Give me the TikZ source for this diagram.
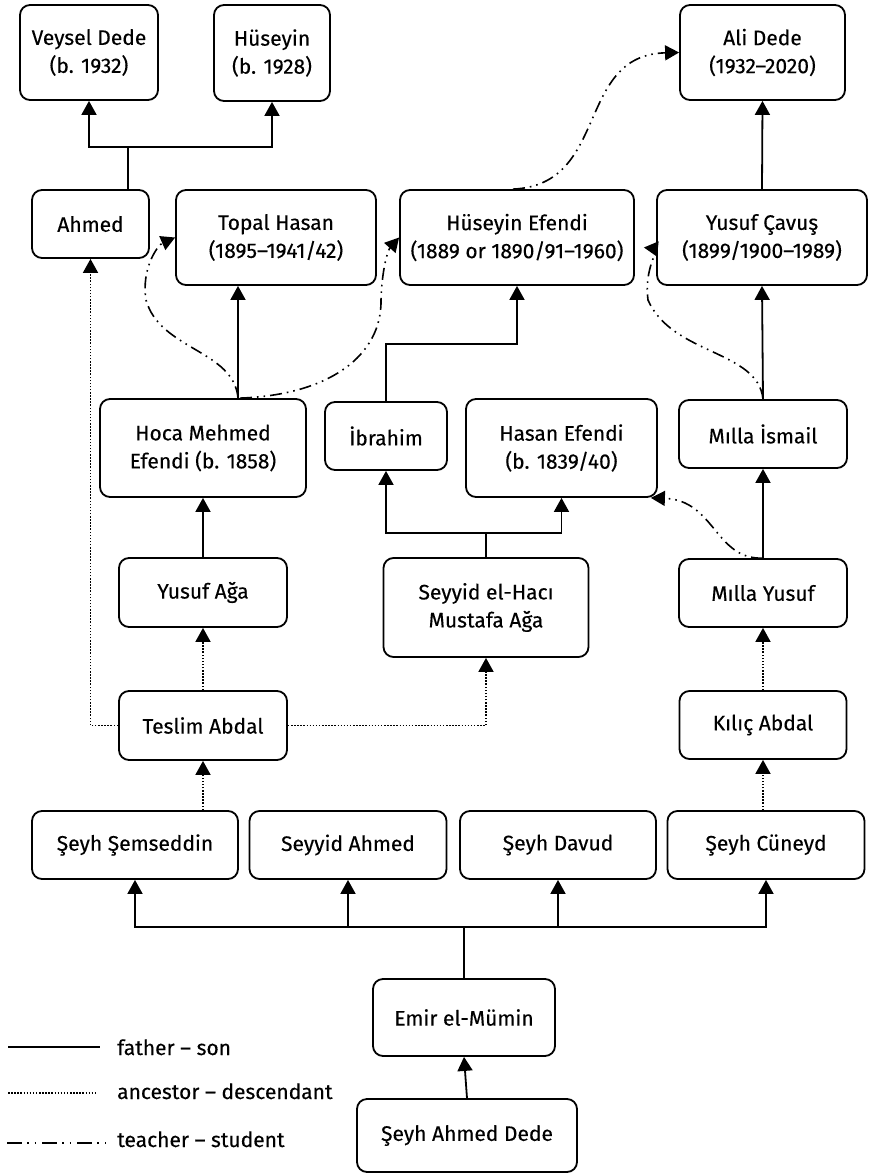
\documentclass[tikz,border=0pt]{standalone}
\usepackage{fontspec}
\setmainfont{Fira Sans}[FakeBold=0.3]
\usetikzlibrary{arrows.meta}

\begin{document}
\begin{tikzpicture}[x=1pt,y=-1pt]
        \tikzstyle{every node}=[font=\fontsize{21}{28}\selectfont]
        \tikzstyle{person}=[draw, line width=1.8pt, rounded corners=10pt, align=center, inner sep=0pt]
        \tikzstyle{son}=[line width=1.8pt, -{Triangle[length=14pt,width=15pt]}]
        \tikzstyle{descendant}=[son, line width=1.8pt, dash pattern=on 1.5pt off 1.6pt]
        \tikzstyle{student}=[son, line width=1.6pt, dash pattern=on 12pt off 5pt on 1.6pt off 5pt on 1.6pt off 5pt]

        \useasboundingbox (0,0) rectangle (869,1175);

        % top row
        \node[person, minimum width=138pt, minimum height=95pt] (veysel) at (89,52.5) {Veysel Dede\\(b. 1932)};
        \node[person, minimum width=116pt, minimum height=96pt] (huseyin) at (272,53) {Hüseyin\\(b. 1928)};
        \node[person, minimum width=165pt, minimum height=95pt] (ali) at (762.5,52.5) {Ali Dede\\(1932–2020)};

        \node[person, minimum width=117pt, minimum height=68pt] (ahmed) at (90.5,224) {Ahmed};
        \node[person, minimum width=200pt, minimum height=95pt] (topal) at (276,237.5) {Topal Hasan\\(1895–1941/42)};
        \node[person, minimum width=234pt, minimum height=95pt] (hefendi) at (517,237.5) {Hüseyin Efendi\\(1889 or 1890/91–1960)};
        \node[person, minimum width=210pt, minimum height=95pt] (yusufc) at (762,237.5) {Yusuf Çavuş\\(1899/1900–1989)};

        \node[person, minimum width=206pt, minimum height=98pt] (hoca) at (203,448) {Hoca Mehmed\\Efendi (b. 1858)};
        \node[person, minimum width=122pt, minimum height=68pt] (ibrahim) at (386,436) {İbrahim};
        \node[person, minimum width=191pt, minimum height=98pt] (hasan) at (561.5,448) {Hasan Efendi\\(b. 1839/40)};
        \node[person, minimum width=168pt, minimum height=68pt] (ismail) at (763,434) {Mılla İsmail};

        \node[person, minimum width=168pt, minimum height=69pt] (yusufa) at (203,592.5) {Yusuf Ağa};
        \node[person, minimum width=205pt, minimum height=99pt] (seyyid) at (486,607.5) {Seyyid el-Hacı\\Mustafa Ağa};
        \node[person, minimum width=168pt, minimum height=68pt] (myusuf) at (763,593) {Mılla Yusuf};

        \node[person, minimum width=168pt, minimum height=69pt] (teslim) at (203,725.5) {Teslim Abdal};
        \node[person, minimum width=167pt, minimum height=68pt] (kilic) at (763,725) {Kılıç Abdal};

        \node[person, minimum width=206pt, minimum height=68pt] (semseddin) at (135,845) {Şeyh Şemseddin};
        \node[person, minimum width=197pt, minimum height=68pt] (sahmed) at (348,845) {Seyyid Ahmed};
        \node[person, minimum width=196pt, minimum height=68pt] (davud) at (558,845) {Şeyh Davud};
        \node[person, minimum width=197pt, minimum height=68pt] (cuneyd) at (766,845) {Şeyh Cüneyd};

        \node[person, minimum width=182pt, minimum height=77pt] (emir) at (464,1017.5) {Emir el-Mümin};
        \node[person, minimum width=220pt, minimum height=73pt] (dede) at (467,1135.5) {Şeyh Ahmed Dede};

        % father - son
        \draw[son] ([xshift=37.5pt]ahmed.north) -- ++(0,-42) -| (veysel.south);
        \draw[son] ([xshift=37.5pt]ahmed.north) ++(0,-42) -| (huseyin.south);
        \draw[son] (yusufc.north) -- (ali.south);
        \draw[son] ([xshift=35pt]hoca.north) -- ([xshift=35pt]hoca.north |- topal.south);
        \draw[son] (ibrahim.north) -- ++(0,-57) -| (hefendi.south);
        \draw[son] (ismail.north) -- (yusufc.south);
        \draw[son] (yusufa.north) -- (hoca.south);
        \draw[son] (seyyid.north) -- ++(0,-24) -| (ibrahim.south);
        \draw[son] (seyyid.north) ++(0,-24) -| (hasan.south);
        \draw[son] (myusuf.north) -- (ismail.south);
        \draw[son] (emir.north) -- ++(0,-51) -| (semseddin.south);
        \draw[son] (emir.north) ++(0,-51) -| (sahmed.south);
        \draw[son] (emir.north) ++(0,-51) -| (davud.south);
        \draw[son] (emir.north) ++(0,-51) -| (cuneyd.south);
        \draw[son] (dede.north) -- (emir.south);

        % ancestor - descendant
        \draw[descendant] (teslim.north) -- (yusufa.south);
        \draw[descendant] (teslim.west) -| (ahmed.south);
        \draw[descendant] (teslim.east) -| (seyyid.south);
        \draw[descendant] (kilic.north) -- (myusuf.south);
        \draw[descendant] (teslim.south |- semseddin.north) -- (teslim.south);
        \draw[descendant] (kilic.south |- cuneyd.north) -- (kilic.south);

        % teacher - student
        \draw[student] ([xshift=35pt]hoca.north) .. controls (234,350) and (160,350) .. (146,300) .. controls (141,268) and (158,245) .. (topal.west);
        \draw[student] ([xshift=37pt]hoca.north) .. controls (330,395) and (382,355) .. (381,300) .. controls (382,268) and (388,250) .. (hefendi.west);
        \draw[student] ([xshift=-4pt]hefendi.north) .. controls (610,185) and (575,55) .. (ali.west);
        \draw[student] (ismail.north) .. controls (758,350) and (672,355) .. (648,300) .. controls (644,270) and (658,249) .. ([xshift=9pt,yshift=-10pt]hefendi.east);
        \draw[student] (myusuf.north) .. controls (715,560) and (715,500) .. ([xshift=-7pt]hasan.south east);

        % legend
        \draw[line width=1.8pt] (8,1047) coordinate (lsona) -- (100,1047) coordinate (lsonb);
        \draw[line width=1.8pt, dash pattern=on 1.5pt off 1.6pt] (8,1093) coordinate (ldesca) -- (97,1093) coordinate (ldescb);
        \draw[line width=1.6pt, dash pattern=on 15pt off 5pt on 1.6pt off 6pt on 1.6pt off 6pt] (7,1143) coordinate (lstuda) -- (106,1143) coordinate (lstudb);
        \node[anchor=base west, inner sep=0pt] (lson) at (117,1055) {father – son};
        \node[anchor=base west, inner sep=0pt] (ldesc) at (117,1099) {ancestor – descendant};
        \node[anchor=base west, inner sep=0pt] (lstud) at (117,1147) {teacher – student};

    \end{tikzpicture}
\end{document}
